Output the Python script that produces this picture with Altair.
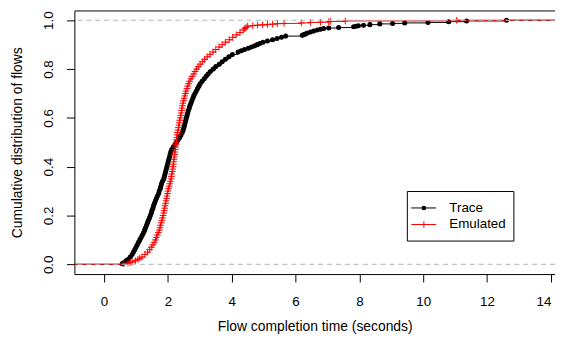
import altair as alt
import pandas as pd

# ---- data ----
series_names = ["Trace", "Emulated"]
series_colors = ["#000000", "#ff0000"]
x_ticks = [0, 2, 4, 6, 8, 10, 12, 14]
y_ticks = [0.0, 0.2, 0.4, 0.6, 0.8, 1.0]
x_domain = [-0.93, 14.13]
y_domain = [-0.04, 1.04]
ref_levels = [0.0, 1.0]

# (completion time, cumulative fraction)
trace_points = [
    (0.57, 0.0025), (0.60, 0.005), (0.66, 0.01), (0.70, 0.015), (0.75, 0.02),
    (0.82, 0.03), (0.88, 0.04), (0.92, 0.05), (0.96, 0.06), (1.00, 0.07),
    (1.04, 0.08), (1.08, 0.09), (1.12, 0.10), (1.16, 0.11), (1.20, 0.12),
    (1.24, 0.13), (1.27, 0.14), (1.30, 0.15), (1.33, 0.16), (1.36, 0.17),
    (1.39, 0.18), (1.42, 0.19), (1.45, 0.20), (1.48, 0.21), (1.50, 0.22),
    (1.53, 0.23), (1.55, 0.24), (1.58, 0.25), (1.61, 0.26), (1.64, 0.27),
    (1.67, 0.28), (1.71, 0.29), (1.73, 0.30), (1.76, 0.31), (1.78, 0.32),
    (1.80, 0.33), (1.83, 0.34), (1.87, 0.35), (1.89, 0.36), (1.91, 0.37),
    (1.93, 0.38), (1.95, 0.39), (1.97, 0.40), (1.99, 0.41), (2.01, 0.42),
    (2.03, 0.43), (2.05, 0.44), (2.07, 0.45), (2.09, 0.46), (2.12, 0.47),
    (2.17, 0.48), (2.22, 0.49), (2.27, 0.50), (2.32, 0.51), (2.37, 0.52),
    (2.41, 0.53), (2.45, 0.54), (2.48, 0.55), (2.50, 0.56), (2.52, 0.57),
    (2.54, 0.58), (2.56, 0.59), (2.58, 0.60), (2.60, 0.61), (2.62, 0.62),
    (2.64, 0.63), (2.67, 0.64), (2.69, 0.65), (2.72, 0.66), (2.75, 0.67),
    (2.78, 0.68), (2.81, 0.69), (2.85, 0.70), (2.89, 0.71), (2.93, 0.72),
    (2.97, 0.73), (3.01, 0.74), (3.07, 0.75), (3.14, 0.76), (3.20, 0.77),
    (3.26, 0.78), (3.33, 0.79), (3.42, 0.80), (3.50, 0.81), (3.61, 0.82),
    (3.70, 0.83), (3.80, 0.84), (3.91, 0.85), (4.02, 0.86), (4.20, 0.87),
    (4.30, 0.875), (4.40, 0.88), (4.52, 0.885), (4.62, 0.89), (4.72, 0.895),
    (4.80, 0.90), (4.88, 0.905), (4.98, 0.91), (5.12, 0.915), (5.28, 0.92),
    (5.42, 0.925), (5.56, 0.93), (5.69, 0.935),
    (6.21, 0.938), (6.26, 0.941), (6.31, 0.944), (6.37, 0.948), (6.47, 0.952),
    (6.57, 0.956), (6.68, 0.960), (6.78, 0.963), (6.88, 0.966), (7.04, 0.968),
    (7.35, 0.970), (7.82, 0.973), (7.90, 0.975), (7.97, 0.977), (8.13, 0.979),
    (8.33, 0.982), (8.64, 0.985), (9.04, 0.987), (9.42, 0.989), (10.15, 0.991),
    (10.80, 0.994), (11.36, 0.997), (12.61, 1.0),
]

# (completion time, cumulative fraction)
emulated_points = [
    (0.62, 0.0025), (0.75, 0.005), (0.82, 0.0075), (0.88, 0.01), (0.98, 0.015),
    (1.06, 0.02), (1.12, 0.025), (1.19, 0.03), (1.28, 0.04), (1.36, 0.05),
    (1.43, 0.06), (1.48, 0.07), (1.53, 0.08), (1.57, 0.09), (1.61, 0.10),
    (1.64, 0.11), (1.67, 0.12), (1.70, 0.13), (1.73, 0.14), (1.75, 0.15),
    (1.77, 0.16), (1.79, 0.17), (1.81, 0.18), (1.83, 0.19), (1.85, 0.20),
    (1.87, 0.21), (1.88, 0.22), (1.90, 0.23), (1.91, 0.24), (1.93, 0.25),
    (1.94, 0.26), (1.96, 0.27), (1.97, 0.28), (1.99, 0.29), (2.00, 0.30),
    (2.02, 0.31), (2.04, 0.32), (2.06, 0.33), (2.08, 0.34), (2.10, 0.35),
    (2.11, 0.36), (2.12, 0.37), (2.14, 0.38), (2.15, 0.39), (2.16, 0.40),
    (2.17, 0.41), (2.18, 0.42), (2.19, 0.43), (2.20, 0.44), (2.21, 0.45),
    (2.22, 0.46), (2.23, 0.47), (2.24, 0.48), (2.25, 0.49), (2.26, 0.50),
    (2.27, 0.51), (2.28, 0.52), (2.29, 0.53), (2.30, 0.54), (2.32, 0.55),
    (2.33, 0.56), (2.35, 0.57), (2.36, 0.58), (2.37, 0.59), (2.39, 0.60),
    (2.40, 0.61), (2.42, 0.62), (2.43, 0.63), (2.44, 0.64), (2.46, 0.65),
    (2.47, 0.66), (2.49, 0.67), (2.51, 0.68), (2.53, 0.69), (2.55, 0.70),
    (2.57, 0.71), (2.60, 0.72), (2.62, 0.73), (2.65, 0.74), (2.68, 0.75),
    (2.72, 0.76), (2.76, 0.77), (2.81, 0.78), (2.85, 0.79), (2.90, 0.80),
    (2.95, 0.81), (3.01, 0.82), (3.08, 0.83), (3.15, 0.84), (3.23, 0.85),
    (3.32, 0.86), (3.41, 0.87), (3.50, 0.88), (3.60, 0.89), (3.70, 0.90),
    (3.80, 0.91), (3.92, 0.92), (4.03, 0.93), (4.14, 0.94), (4.26, 0.95),
    (4.36, 0.96), (4.41, 0.965), (4.45, 0.97), (4.50, 0.976),
    (4.66, 0.978), (4.81, 0.980), (4.97, 0.981), (5.12, 0.983), (5.28, 0.984),
    (5.43, 0.986), (5.64, 0.987), (6.18, 0.989), (6.47, 0.991), (6.78, 0.992),
    (7.04, 0.994), (7.09, 0.995), (7.56, 0.997), (11.05, 1.0),
]

FONT = "Liberation Sans"
W, H = 485, 266

xs = alt.Scale(domain=x_domain, nice=False, zero=False)
ys = alt.Scale(domain=y_domain, nice=False, zero=False)


def frames(points, name):
    pts = pd.DataFrame(points, columns=["t", "p"]).sort_values("t").reset_index(drop=True)
    pts["series"] = name
    seg = pts.copy()
    seg["t2"] = seg["t"].shift(-1).fillna(x_domain[1])
    first = pd.DataFrame({"t": [x_domain[0]], "p": [0.0], "series": [name],
                          "t2": [pts["t"].iloc[0]]})
    seg = pd.concat([first, seg], ignore_index=True)
    return pts, seg


trace_pts, trace_seg = frames(trace_points, series_names[0])
emu_pts, emu_seg = frames(emulated_points, series_names[1])

x_enc = alt.X(
    "t:Q", scale=xs,
    axis=alt.Axis(
        values=x_ticks, format="d", title="Flow completion time (seconds)",
        grid=False, domain=False, ticks=True, tickSize=8, tickColor="black",
        labelFont=FONT, labelFontSize=13.5, labelColor="black", labelPadding=12.5,
        labelFlush=5,
        titleFont=FONT, titleFontSize=14, titleFontWeight="normal", titleColor="black",
        titleBaseline="alphabetic", titleY=57,
    ),
)
y_enc = alt.Y(
    "p:Q", scale=ys,
    axis=alt.Axis(
        values=y_ticks, format=".1f", title="Cumulative distribution of flows",
        grid=False, domain=False, ticks=True, tickSize=8, tickColor="black",
        labelFont=FONT, labelFontSize=13.5, labelColor="black", labelPadding=14,
        labelAngle=270, labelAlign="center", labelBaseline="alphabetic",
        titleFont=FONT, titleFontSize=14, titleFontWeight="normal", titleColor="black",
        titleAngle=270, titleAlign="center", titleBaseline="middle",
        titleX=-57, titleY=H / 2,
    ),
)


def seg_layer(df, color):
    return alt.Chart(df).mark_rule(color=color, strokeWidth=1, clip=True).encode(
        x=x_enc, x2="t2:Q", y=y_enc)


trace_seg_l = seg_layer(trace_seg, series_colors[0])
trace_pt_l = alt.Chart(trace_pts).mark_circle(
    color=series_colors[0], size=26, opacity=1, clip=True).encode(x=x_enc, y=y_enc)
emu_seg_l = seg_layer(emu_seg, series_colors[1])
emu_pt_l = alt.Chart(emu_pts).mark_point(
    shape="M-1,0L1,0M0,-1L0,1", filled=False, color=series_colors[1],
    size=45, strokeWidth=1, opacity=1, clip=True).encode(x=x_enc, y=y_enc)

ref_l = alt.Chart(pd.DataFrame({"p": ref_levels})).mark_rule(
    color="#b3b3b3", strokeDash=[5, 4], strokeWidth=1).encode(
    y=alt.Y("p:Q", scale=ys))

# ---- legend (drawn in the plot area, like R's legend()) ----
one = alt.Data(values=[{"k": 1}])
legend_box = alt.Chart(one).mark_rect(fill="white", stroke="black", strokeWidth=1).encode(
    x=alt.value(336), x2=alt.value(443.5), y=alt.value(182.7), y2=alt.value(232.7))

legend_layers = [legend_box]
row_y = [199.3, 216.0]
for name, color, ry in zip(series_names, series_colors, row_y):
    d = alt.Data(values=[{"label": name}])
    legend_layers.append(alt.Chart(d).mark_rule(color=color, strokeWidth=1).encode(
        x=alt.value(340), x2=alt.value(365), y=alt.value(ry)))
    if name == "Trace":
        legend_layers.append(alt.Chart(d).mark_circle(color=color, size=22, opacity=1).encode(
            x=alt.value(352.7), y=alt.value(ry)))
    else:
        legend_layers.append(alt.Chart(d).mark_point(
            shape="M-1,0L1,0M0,-1L0,1", filled=False, color=color, size=45,
            strokeWidth=1, opacity=1).encode(x=alt.value(352.7), y=alt.value(ry)))
    legend_layers.append(alt.Chart(d).mark_text(
        align="left", baseline="middle", font=FONT, fontSize=13.5, color="black").encode(
        x=alt.value(378.3), y=alt.value(ry), text="label:N"))

chart = alt.layer(
    trace_seg_l, trace_pt_l, emu_seg_l, emu_pt_l, ref_l, *legend_layers
).properties(
    width=W, height=H,
    autosize=alt.AutoSizeParams(type="none"),
    padding={"left": 67, "top": 1, "right": 0, "bottom": 60},
    background="white",
).configure_view(stroke="black", strokeWidth=1)

chart.save("out.html", embed_options={"renderer": "svg", "actions": False})
